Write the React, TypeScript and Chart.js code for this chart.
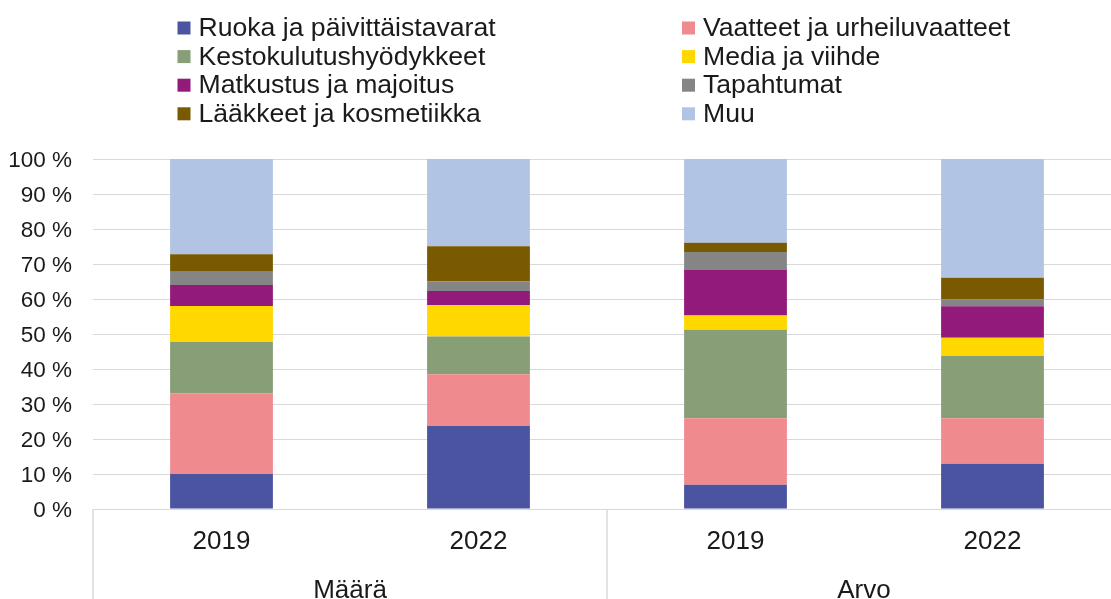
import React, { useEffect, useRef } from 'react';
import { Chart, registerables } from 'chart.js';

Chart.register(...registerables);

// ---- data ----
const categories = ['2019', '2022', '2019', '2022'];
const groups = ['Määrä', 'Arvo'];
const seriesNames = [
  'Ruoka ja päivittäistavarat',
  'Vaatteet ja urheiluvaatteet',
  'Kestokulutushyödykkeet',
  'Media ja viihde',
  'Matkustus ja majoitus',
  'Tapahtumat',
  'Lääkkeet ja kosmetiikka',
  'Muu',
];
const ruoka = [10.0, 23.7, 6.9, 12.9];
const vaatteet = [23.1, 14.8, 19.0, 13.0];
const kesto = [14.6, 10.8, 25.3, 17.8];
const media = [10.3, 9.0, 4.1, 5.2];
const matkustus = [6.0, 4.0, 13.0, 9.0];
const tapahtumat = [3.8, 2.8, 5.1, 2.0];
const laakkeet = [5.0, 10.0, 2.7, 6.2];
const muu = [27.2, 24.9, 23.9, 33.9];
const seriesValues = [ruoka, vaatteet, kesto, media, matkustus, tapahtumat, laakkeet, muu];
const colors = ['#4a54a0', '#ef8a8f', '#889e77', '#ffd800', '#921a7a', '#858585', '#7a5a00', '#b2c4e3'];

const FONT = '"Liberation Sans", Arial, sans-serif';
const TEXT = '#1a1a1a';
const GRID = '#d9d9d9';

const legendPlugin = {
  id: 'gridLegend',
  afterDraw(chart: any) {
    const ctx = chart.ctx;
    const colX = [177.5, 682];
    const top0 = 21.5;
    const rowH = 28.6;
    const box = 13;
    ctx.save();
    ctx.font = `26.6px ${FONT}`;
    ctx.textBaseline = 'alphabetic';
    ctx.textAlign = 'left';
    chart.data.datasets.forEach((ds: any, i: number) => {
      const col = i % 2;
      const row = Math.floor(i / 2);
      const x = colX[col];
      const y = top0 + row * rowH;
      ctx.fillStyle = ds.backgroundColor;
      ctx.fillRect(x, y, box, box);
      ctx.fillStyle = TEXT;
      ctx.fillText(ds.label, x + box + 8, y + 14.7);
    });
    ctx.restore();
  },
};

const groupAxisPlugin = {
  id: 'groupAxis',
  afterDraw(chart: any) {
    const ctx = chart.ctx;
    const xs = chart.scales.x;
    const n = categories.length;
    const per = n / groups.length;
    const half = (xs.getPixelForValue(1) - xs.getPixelForValue(0)) / 2;
    const top = xs.top;
    const bottom = chart.height;
    ctx.save();
    ctx.strokeStyle = GRID;
    ctx.lineWidth = 1.5;
    for (let g = 0; g <= groups.length; g++) {
      const idx = Math.min(g * per, n - 1);
      const px = g * per < n ? xs.getPixelForValue(idx) - half : xs.getPixelForValue(n - 1) + half;
      ctx.beginPath();
      ctx.moveTo(px, top);
      ctx.lineTo(px, bottom);
      ctx.stroke();
    }
    ctx.font = `26px ${FONT}`;
    ctx.fillStyle = TEXT;
    ctx.textAlign = 'center';
    ctx.textBaseline = 'alphabetic';
    groups.forEach((label, g) => {
      const a = xs.getPixelForValue(g * per);
      const b = xs.getPixelForValue(g * per + per - 1);
      ctx.fillText(label, (a + b) / 2, top + 89);
    });
    ctx.restore();
  },
};

export default function App() {
  const ref = useRef<HTMLCanvasElement>(null);
  useEffect(() => {
    if (!ref.current) return;
    const chart = new Chart(ref.current, {
      type: 'bar',
      data: {
        labels: categories,
        datasets: seriesNames.map((name, i) => ({
          label: name,
          data: seriesValues[i],
          backgroundColor: colors[i],
          borderWidth: 0,
          barPercentage: 0.4,
          categoryPercentage: 1.0,
        })),
      },
      options: {
        animation: false,
        responsive: false,
        layout: { padding: { top: 159, left: 0, right: 0, bottom: 0 } },
        plugins: {
          legend: { display: false },
          tooltip: { enabled: false },
        },
        scales: {
          x: {
            stacked: true,
            grid: { display: false, drawTicks: false },
            border: { display: true, color: GRID, width: 1 },
            ticks: {
              color: TEXT,
              font: { family: FONT, size: 26 },
              padding: 17,
            },
            afterFit(scale: any) {
              scale.height = 90;
            },
          },
          y: {
            stacked: true,
            min: 0,
            max: 100,
            grid: { color: GRID, drawTicks: false, lineWidth: 1 },
            border: { display: false },
            ticks: {
              stepSize: 10,
              color: TEXT,
              font: { family: FONT, size: 22.5 },
              padding: 21,
              labelOffset: 2,
              callback: (v: any) => `${v} %`,
            },
            afterFit(scale: any) {
              scale.width = 93;
            },
          },
        },
      },
      plugins: [legendPlugin, groupAxisPlugin],
    });
    return () => chart.destroy();
  }, []);

  return (
    <div
      style={{
        position: 'fixed',
        left: 0,
        top: 0,
        width: 1111,
        height: 599,
        overflow: 'hidden',
        background: '#fff',
      }}
    >
      <canvas ref={ref} width={1121} height={599} style={{ display: 'block' }} />
    </div>
  );
}
